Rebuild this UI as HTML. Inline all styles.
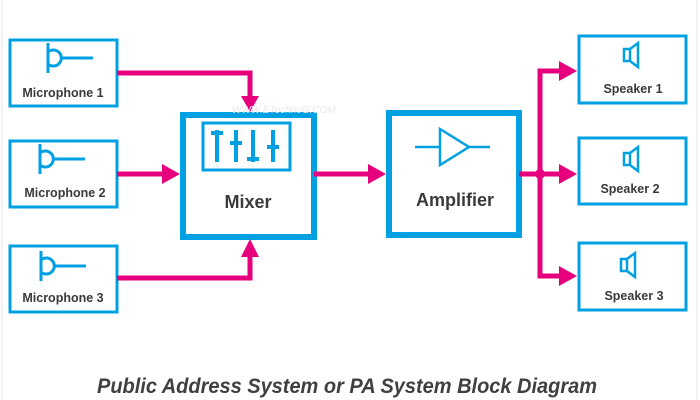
<!DOCTYPE html>
<html><head><meta charset="utf-8"><style>
html,body{margin:0;padding:0;background:#fff;}
svg{display:block;}
text{font-family:"Liberation Sans",sans-serif;fill:#3a3a3a;font-weight:bold;}
</style></head><body>
<svg width="700" height="400" viewBox="0 0 700 400" xmlns="http://www.w3.org/2000/svg">
<line x1="2" y1="0" x2="2" y2="400" stroke="#e4e4e4" stroke-width="1"/>
<line x1="697" y1="0" x2="697" y2="400" stroke="#e4e4e4" stroke-width="1"/>
<g fill="none" stroke="#00a0e3" stroke-width="3">
  <rect x="10" y="40" width="107" height="66"/>
  <rect x="10" y="141" width="107" height="66"/>
  <rect x="10" y="246" width="107" height="66"/>
  <rect x="579" y="36" width="107" height="67"/>
  <rect x="579" y="138" width="107" height="66"/>
  <rect x="579" y="243" width="107" height="67"/>
</g>
<g fill="none" stroke="#00a0e3" stroke-width="6">
  <rect x="183" y="115" width="131" height="122"/>
  <rect x="389" y="113" width="130" height="122"/>
</g>
<!-- mic icons -->
<g fill="none" stroke="#00a0e3" stroke-width="3">
  <g><line x1="48" y1="43" x2="48" y2="73"/><path d="M48 52 A8 8 0 1 1 48 64"/><line x1="62" y1="58" x2="93" y2="58"/></g>
  <g transform="translate(-8,101)"><line x1="48" y1="43" x2="48" y2="73"/><path d="M48 52 A8 8 0 1 1 48 64"/><line x1="62" y1="58" x2="93" y2="58"/></g>
  <g transform="translate(-7,208)"><line x1="48" y1="43" x2="48" y2="73"/><path d="M48 52 A8 8 0 1 1 48 64"/><line x1="62" y1="58" x2="93" y2="58"/></g>
</g>
<!-- speaker icons -->
<g fill="none" stroke="#00a0e3" stroke-width="2.5">
  <g><rect x="624" y="49" width="6" height="12"/><path d="M630 49 L638 43 L638 67 L630 61"/></g>
  <g transform="translate(0,104)"><rect x="624" y="49" width="6" height="12"/><path d="M630 49 L638 43 L638 67 L630 61"/></g>
  <g transform="translate(-3,210)"><rect x="624" y="49" width="6" height="12"/><path d="M630 49 L638 43 L638 67 L630 61"/></g>
</g>
<!-- mixer display -->
<rect x="203" y="123" width="87" height="47" fill="none" stroke="#00a0e3" stroke-width="3"/>
<g stroke="#00a0e3" stroke-width="4">
  <line x1="217" y1="130" x2="217" y2="162"/><line x1="211" y1="133" x2="223" y2="133"/>
  <line x1="236" y1="130" x2="236" y2="162"/><line x1="230" y1="143" x2="242" y2="143"/>
  <line x1="253" y1="130" x2="253" y2="162"/><line x1="247" y1="159" x2="259" y2="159"/>
  <line x1="273" y1="130" x2="273" y2="162"/><line x1="267" y1="147" x2="279" y2="147"/>
</g>
<!-- amp icon -->
<g fill="none" stroke="#00a0e3" stroke-width="2.5">
  <line x1="415" y1="147" x2="440" y2="147"/>
  <path d="M440 129 L469 147 L440 165 Z"/>
  <line x1="469" y1="147" x2="490" y2="147"/>
</g>
<!-- connectors -->
<g fill="none" stroke="#e6007e" stroke-width="5">
  <polyline points="117,73 250,73 250,98"/>
  <line x1="117" y1="174" x2="166" y2="174"/>
  <polyline points="117,278 250,278 250,255"/>
  <line x1="314" y1="174" x2="370" y2="174"/>
  <line x1="519" y1="174" x2="540" y2="174"/>
  <polyline points="562,71 540,71 540,276 562,276"/>
  <line x1="540" y1="174" x2="562" y2="174"/>
</g>
<g fill="#e6007e">
  <polygon points="241,96 259,96 250,112"/>
  <polygon points="162,164 162,184 180,174"/>
  <polygon points="241,257 259,257 250,239"/>
  <polygon points="368,164 368,184 386,174"/>
  <circle cx="540" cy="174" r="5"/>
  <polygon points="559,61 559,81 577,71"/>
  <polygon points="559,164 559,184 577,174"/>
  <polygon points="559,266 559,286 577,276"/>
</g>
<text x="232" y="113" style="font-size:10px;font-style:italic;fill:#e8e8e8;font-weight:normal">WWW.ETechnoG.COM</text>
<!-- labels -->
<g style="font-size:12.5px" text-anchor="middle">
  <text x="63" y="97">Microphone 1</text>
  <text x="65" y="197">Microphone 2</text>
  <text x="63" y="302">Microphone 3</text>
  <text x="633" y="93">Speaker 1</text>
  <text x="630" y="193">Speaker 2</text>
  <text x="634" y="300">Speaker 3</text>
</g>
<text x="248" y="208" text-anchor="middle" style="font-size:18px">Mixer</text>
<text x="455" y="206" text-anchor="middle" style="font-size:18px">Amplifier</text>
<text x="347" y="393" text-anchor="middle" textLength="500" lengthAdjust="spacingAndGlyphs" style="font-size:21px;font-style:italic;fill:#404040">Public Address System or PA System Block Diagram</text>
</svg>
</body></html>
